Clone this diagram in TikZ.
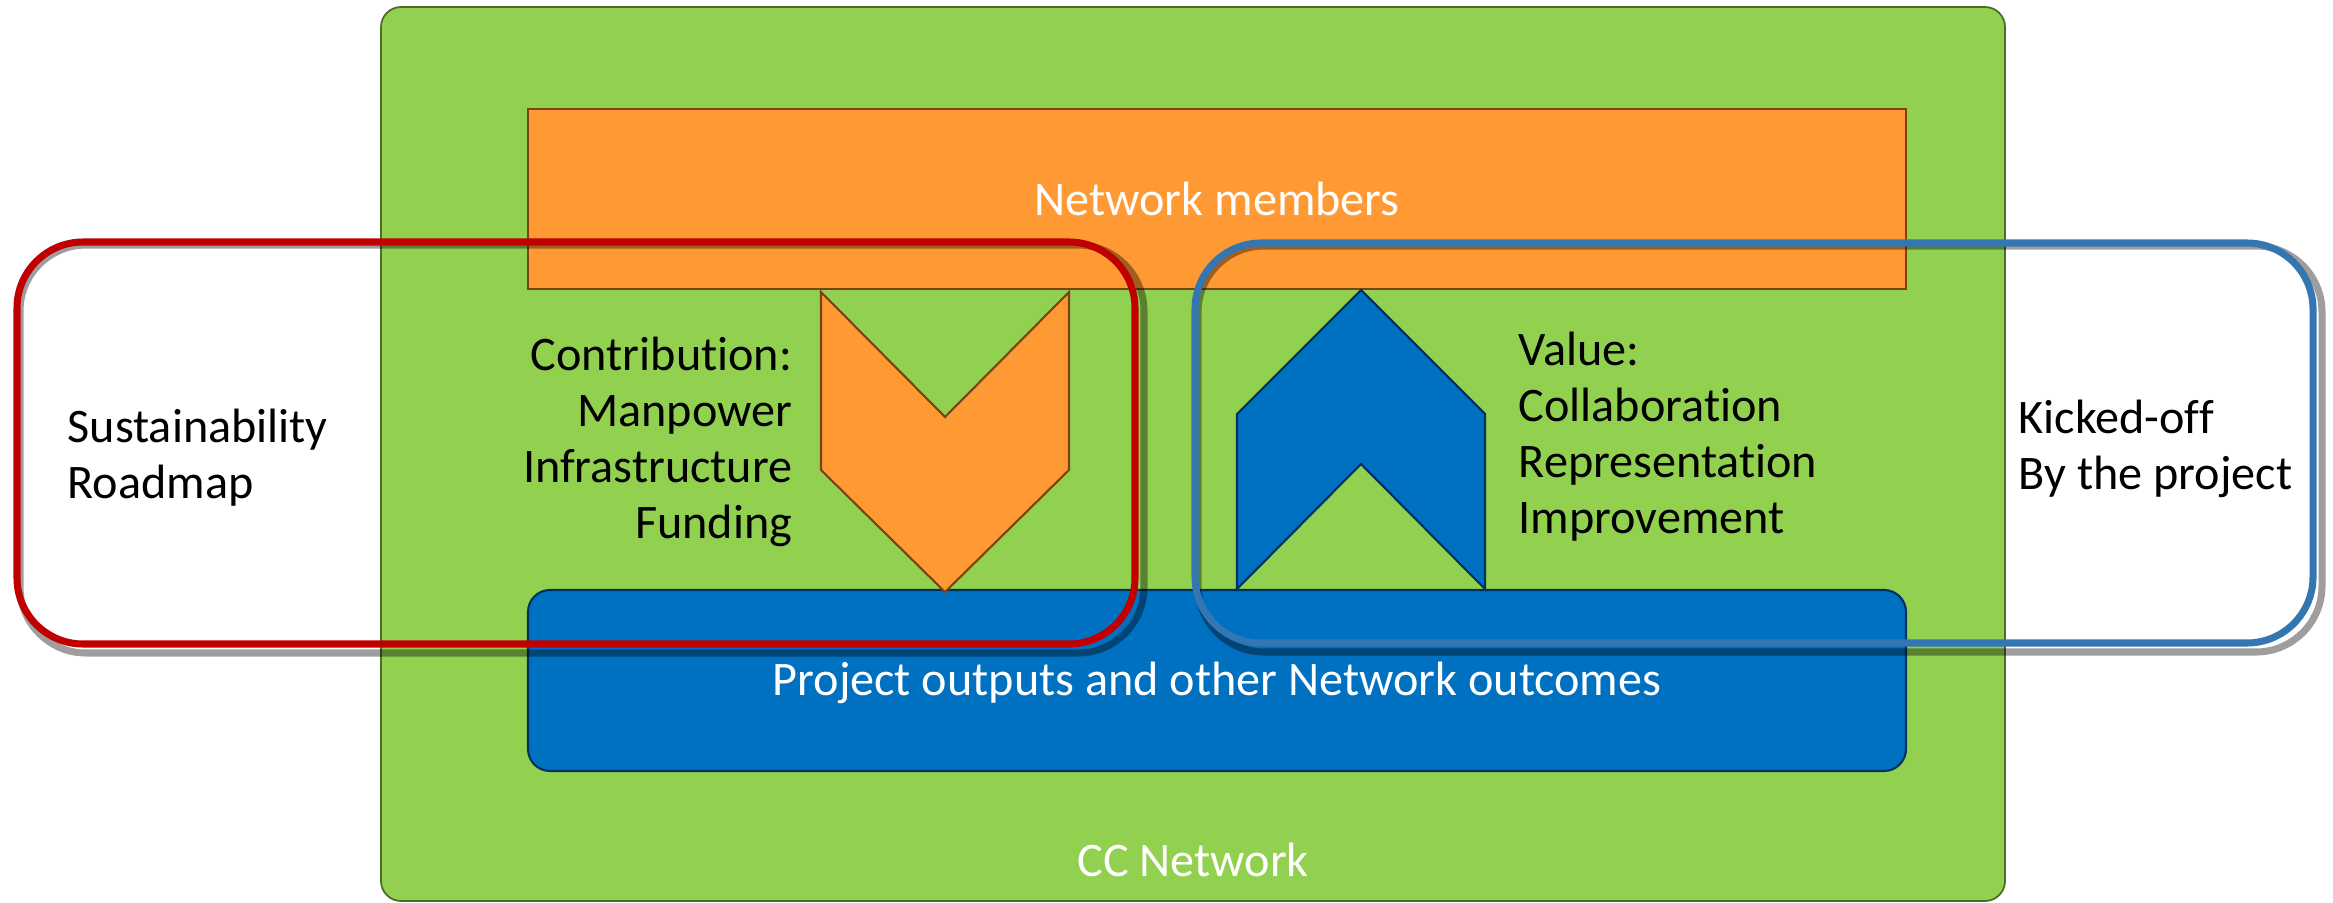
\documentclass[tikz,border=0pt]{standalone}
\usepackage{fontspec}
\setmainfont[Ligatures={NoCommon}]{Carlito}
\definecolor{ccgreen}{HTML}{92D050}
\definecolor{ccgreenB}{HTML}{4F6B2A}
\definecolor{ccorange}{HTML}{FF9933}
\definecolor{ccorangeB}{HTML}{7A4410}
\definecolor{ccblue}{HTML}{0070C0}
\definecolor{ccblueB}{HTML}{00325E}
\definecolor{ccred}{HTML}{C00000}
\definecolor{ccsteel}{HTML}{3476B1}
\tikzset{
  txt/.style={inner sep=0pt, text=black},
  txtw/.style={inner sep=0pt, text=white},
  ring/.style={line width=2pt, rounded corners=0.66cm},
  ringshadow/.style={line width=2pt, rounded corners=0.66cm, draw=black, draw opacity=0.38},
}
\begin{document}
\begin{tikzpicture}[x=0.01cm,y=-0.01cm, font=\fontsize{13.7}{15.9}\selectfont]
\useasboundingbox (0,0) rectangle (2333,903);
\begin{scope}
\clip (0,0) rectangle (2333,903);
% green network box
\draw[fill=ccgreen, draw=ccgreenB, line width=0.5pt, rounded corners=0.2cm] (381,7) rectangle (2005,901);
% network members
\draw[fill=ccorange, draw=ccorangeB, line width=0.6pt] (528,109) rectangle (1906,289);
% outputs
\draw[fill=ccblue, draw=ccblueB, line width=0.6pt, rounded corners=0.22cm] (528,590) rectangle (1906,771);
% chevrons
\draw[fill=ccorange, draw=ccorangeB, line width=0.6pt] (821,292) -- (945,417) -- (1069,292) -- (1069,470) -- (945,592) -- (821,470) -- cycle;
\draw[fill=ccblue, draw=ccblueB, line width=0.6pt] (1237,414) -- (1361,290) -- (1485,414) -- (1485,589) -- (1361,464) -- (1237,589) -- cycle;
% texts
\node[txtw] (members) at (1217,199) {Network members};
\node[txtw] (outputs) at (1217,683) {Project outputs and other Network outcomes};
\node[txtw] (cc) at (1193,860) {CC Network};
\node[txt, align=right, anchor=east] (contrib) at (793,442) {Contribution:\\Manpower\\Infrastructure\\Funding};
\node[txt, align=left, anchor=west] (value) at (1518,437) {Value:\\Collaboration\\Representation\\Improvement};
\node[txt, align=left, anchor=west] (sust) at (67,458) {Sustainability\\Roadmap};
\node[txt, align=left, anchor=west] (kick) at (2018,449) {Kicked-off\\By the project};
% rings with shadows
\draw[ringshadow] (20,245) rectangle (1144,653);
\draw[ringshadow] (1198,246) rectangle (2322,652);
\draw[ring, draw=ccred] (17,242) rectangle (1135,644);
\draw[ring, draw=ccsteel] (1195,243) rectangle (2313,643);
\end{scope}
\end{tikzpicture}
\end{document}
